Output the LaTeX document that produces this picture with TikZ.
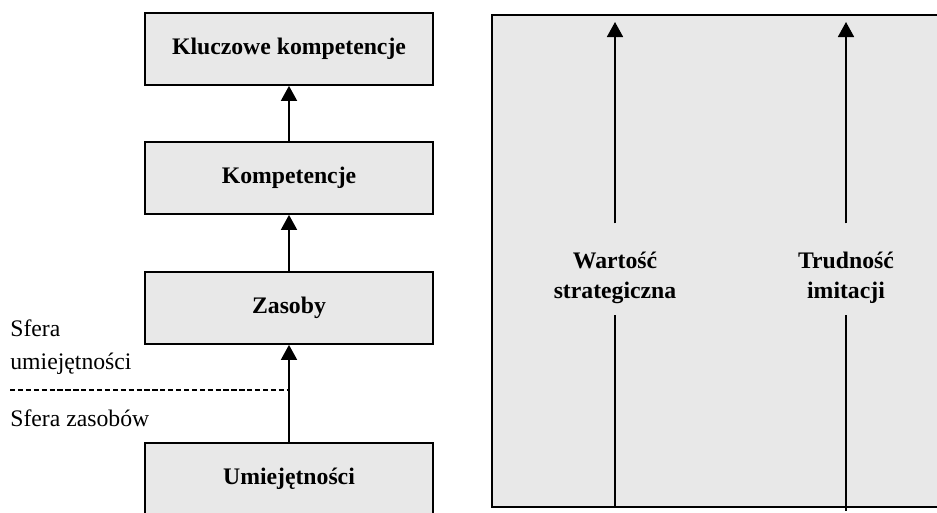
\documentclass[tikz,border=0pt]{standalone}
\usepackage{fontspec}
\setmainfont{Liberation Serif}
\usetikzlibrary{arrows.meta}
\definecolor{boxgray}{HTML}{E8E8E8}

\begin{document}
\begin{tikzpicture}[x=0.02cm, y=-0.02cm,
  box/.style={draw, line width=1pt, fill=boxgray, minimum width=5.76cm, minimum height=1.44cm, inner sep=0pt, font=\fontsize{13.5}{17}\selectfont\bfseries},
  lbl/.style={align=center, inner sep=2pt, font=\fontsize{13.5}{17}\selectfont\bfseries},
  sfera/.style={anchor=west, align=left, inner sep=0pt, font=\fontsize{13.5}{19}\selectfont},
  arr/.style={line width=1pt, -{Triangle[width=0.32cm, length=0.3cm]}}]
  \useasboundingbox (0,0) rectangle (937,512);
  \clip (0,0) rectangle (937,512);
  % left column
  \node[box] (kluczowe) at (289,49) {Kluczowe kompetencje};
  \node[box] (komp) at (289,178) {Kompetencje};
  \node[box] (zasoby) at (289,308) {Zasoby};
  \node[box] (umiej) at (289,479) {Umiejętności};
  \draw[arr] (umiej) -- (zasoby);
  \draw[arr] (zasoby) -- (komp);
  \draw[arr] (komp) -- (kluczowe);
  % spheres
  \node[sfera] (sferaU) at (10,347) {Sfera\\umiejętności};
  \node[sfera] (sferaZ) at (10,418) {Sfera zasobów};
  \coordinate (dashL) at (10,390);
  \coordinate (dashR) at (287,390);
  \draw[line width=0.8pt, dash pattern=on 3pt off 1.5pt] (dashL) -- (dashR);
  % right panel
  \draw[line width=1pt, fill=boxgray] (492,15) rectangle (980,507);
  \node[lbl] (wartosc) at (615,278) {Wartość\\strategiczna};
  \node[lbl] (trudnosc) at (846,278) {Trudność\\imitacji};
  \coordinate (wtop) at (615,22);
  \coordinate (wbot) at (615,507);
  \coordinate (ttop) at (846,22);
  \coordinate (tbot) at (846,511);
  \draw[arr] ([yshift=0.5cm]wartosc.north) -- (wtop);
  \draw[line width=1pt] ([yshift=-0.15cm]wartosc.south) -- (wbot);
  \draw[arr] ([yshift=0.5cm]trudnosc.north) -- (ttop);
  \draw[line width=1pt] ([yshift=-0.15cm]trudnosc.south) -- (tbot);
\end{tikzpicture}
\end{document}
